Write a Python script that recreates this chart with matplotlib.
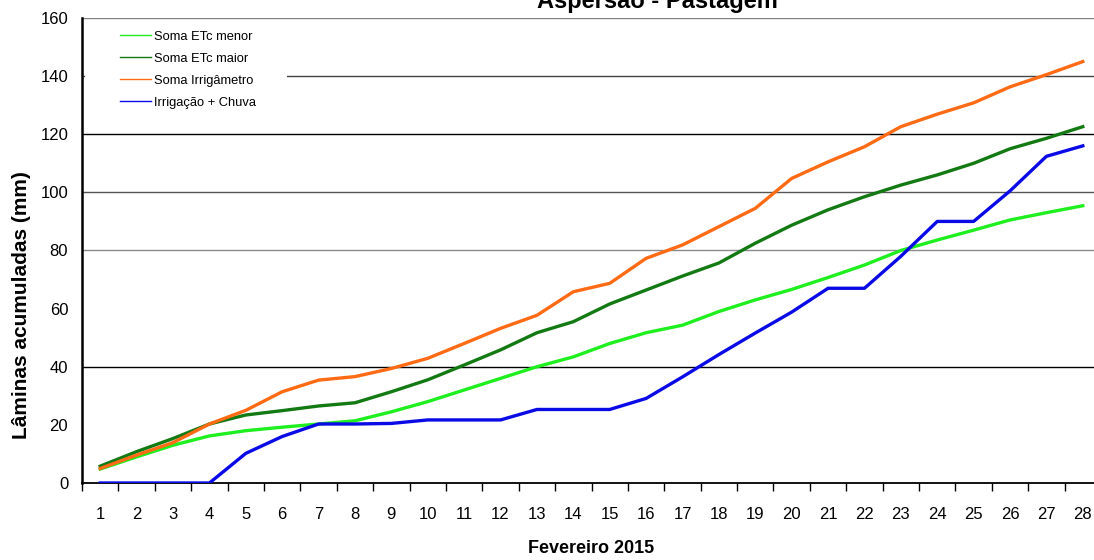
import numpy as np
import matplotlib.pyplot as plt
from matplotlib.patches import Rectangle

plt.rcParams['font.family'] = ['Liberation Sans', 'DejaVu Sans']

dias = list(range(1, 29))
etc_menor = [4.8, 9.0, 13.0, 16.2, 18.0, 19.2, 20.3, 21.4, 24.5, 28.0,
             32.0, 36.0, 40.0, 43.4, 48.0, 51.7, 54.3, 59.0, 63.0, 66.6,
             70.7, 75.0, 80.0, 83.6, 87.0, 90.5, 93.0, 95.4]
etc_maior = [5.8, 10.8, 15.3, 20.3, 23.4, 24.9, 26.5, 27.6, 31.4, 35.5,
             40.6, 45.8, 51.7, 55.5, 61.6, 66.4, 71.2, 75.7, 82.5, 88.7,
             94.0, 98.5, 102.5, 106.0, 110.0, 115.0, 118.6, 122.6]
irrigametro = [5.0, 9.6, 13.9, 20.3, 25.0, 31.4, 35.4, 36.6, 39.4, 42.9,
               48.0, 53.2, 57.7, 65.8, 68.7, 77.3, 81.9, 88.2, 94.5, 104.8,
               110.5, 115.7, 122.6, 126.9, 130.8, 136.3, 140.5, 145.0]
irrig_chuva = [0, 0, 0, 0, 10.2, 16.0, 20.3, 20.3, 20.5, 21.7,
               21.7, 21.7, 25.3, 25.3, 25.3, 29.1, 36.5, 44.2, 51.6, 58.8,
               67.0, 67.0, 78.0, 90.0, 90.0, 100.5, 112.4, 116.0]

series = [
    ('Soma ETc menor', etc_menor, '#1fee1f'),
    ('Soma ETc maior', etc_maior, '#137a13'),
    ('Soma Irrigâmetro', irrigametro, '#ff6a14'),
    ('Irrigação + Chuva', irrig_chuva, '#0a0ae6'),
]

fig = plt.figure(figsize=(10.94, 5.6), dpi=100)
ax = fig.add_axes([0.075, 0.1375, 0.9314, 0.8304])

# grid lines (some of the original render darker than others)
for v, c in [(40, 'black'), (80, '#8a8a8a'), (100, '#555555'),
             (120, 'black'), (140, '#444444'), (160, '#808080')]:
    ax.axhline(v, color=c, lw=1.0, zorder=1)

for name, vals, col in series:
    ax.plot(dias, vals, color=col, lw=2.4, label=name, zorder=3)

ax.set_xlim(0.5, 28.5)
ax.set_ylim(0, 160)

ax.set_xticks(dias)
ax.set_xticklabels([str(d) for d in dias])
ax.set_xticks(np.arange(0.5, 29, 1), minor=True)
ax.tick_params(axis='x', which='major', length=0, pad=17, labelsize=12)
ax.tick_params(axis='x', which='minor', length=6, width=1, direction='out')

ax.set_yticks(range(0, 161, 20))
ax.set_yticks([0, 40, 80, 100, 120, 140, 160], minor=True)
ax.tick_params(axis='y', which='major', length=0, pad=10, labelsize=12)
ax.tick_params(axis='y', which='minor', length=6, width=1, direction='out')

ax.spines['top'].set_visible(False)
ax.spines['right'].set_visible(False)
ax.spines['left'].set_linewidth(1.8)
ax.spines['bottom'].set_linewidth(1.3)

# white box behind the legend, hiding part of the 140 line
ax.add_patch(Rectangle((0.003, 0.78), 0.198, 0.19, transform=ax.transAxes,
                       facecolor='white', edgecolor='none', zorder=2))

leg = ax.legend(loc='upper left', bbox_to_anchor=(0.032, 0.984), fontsize=9.3,
                frameon=False, handlelength=2.4, handletextpad=0.25,
                labelspacing=0.78, borderaxespad=0.0)
for line in leg.get_lines():
    line.set_linewidth(1.0)
leg.set_zorder(5)

ax.set_xlabel('Fevereiro 2015', fontsize=13, fontweight='bold', labelpad=13)
fig.text(0.02, 0.455, 'Lâminas acumuladas (mm)', rotation=90, ha='center',
         va='center', fontsize=15, fontweight='bold')
fig.text(0.6005, 1 - 8 / 560, 'Aspersão - Pastagem', ha='center', va='baseline',
         fontsize=17, fontweight='bold')

fig.savefig('out.png', dpi=100)
